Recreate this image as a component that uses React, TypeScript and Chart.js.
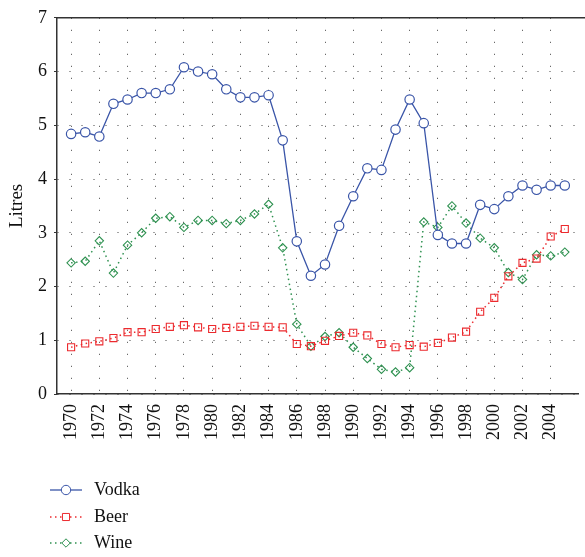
import React, { useEffect, useRef } from "react";
import { Chart, registerables } from "chart.js";

Chart.register(...registerables);

const years: number[] = [
  1970, 1971, 1972, 1973, 1974, 1975, 1976, 1977, 1978, 1979, 1980, 1981,
  1982, 1983, 1984, 1985, 1986, 1987, 1988, 1989, 1990, 1991, 1992, 1993,
  1994, 1995, 1996, 1997, 1998, 1999, 2000, 2001, 2002, 2003, 2004, 2005,
];

const vodka: number[] = [
  4.84, 4.87, 4.79, 5.4, 5.48, 5.6, 5.6, 5.67, 6.08, 6.0, 5.95, 5.67,
  5.52, 5.52, 5.56, 4.72, 2.84, 2.2, 2.41, 3.13, 3.68, 4.2, 4.17, 4.92,
  5.48, 5.04, 2.96, 2.8, 2.8, 3.52, 3.44, 3.68, 3.88, 3.8, 3.88, 3.88,
];

const beer: number[] = [
  0.87, 0.94, 0.98, 1.04, 1.15, 1.15, 1.21, 1.25, 1.28, 1.24, 1.21, 1.23,
  1.25, 1.27, 1.25, 1.24, 0.93, 0.89, 0.99, 1.08, 1.14, 1.09, 0.93, 0.87,
  0.91, 0.88, 0.95, 1.05, 1.16, 1.53, 1.79, 2.19, 2.44, 2.52, 2.93, 3.07,
];

const wine: number[] = [
  2.44, 2.47, 2.85, 2.25, 2.77, 3.0, 3.27, 3.3, 3.1, 3.23, 3.23, 3.17,
  3.23, 3.35, 3.53, 2.72, 1.3, 0.89, 1.07, 1.14, 0.87, 0.66, 0.46, 0.41,
  0.49, 3.2, 3.1, 3.5, 3.18, 2.9, 2.72, 2.26, 2.13, 2.59, 2.57, 2.64,
];

const xTickYears: number[] = [
  1970, 1972, 1974, 1976, 1978, 1980, 1982, 1984, 1986, 1988, 1990, 1992,
  1994, 1996, 1998, 2000, 2002, 2004,
];

const seriesNames: string[] = ["Vodka", "Beer", "Wine"];
const yTitle = "Litres";

const FONT = "'Liberation Serif', 'Times New Roman', serif";
const BLUE = "#3a55a8";
const RED = "#ec2a2e";
const GREEN = "#2e9150";

function drawMarker(ctx: CanvasRenderingContext2D, style: string, x: number, y: number, r: number) {
  ctx.beginPath();
  if (style === "circle") {
    ctx.arc(x, y, r, 0, Math.PI * 2);
  } else if (style === "rect") {
    const s = r * Math.SQRT1_2;
    ctx.rect(x - s, y - s, 2 * s, 2 * s);
  } else {
    ctx.moveTo(x, y - r);
    ctx.lineTo(x + r, y);
    ctx.lineTo(x, y + r);
    ctx.lineTo(x - r, y);
    ctx.closePath();
  }
}

const frameAndLegend = {
  id: "frameAndLegend",
  afterDraw(chart: any) {
    const ctx: CanvasRenderingContext2D = chart.ctx;
    const area = chart.chartArea;
    ctx.save();
    ctx.strokeStyle = "#333";
    ctx.lineWidth = 1.5;
    ctx.setLineDash([]);
    ctx.beginPath();
    ctx.moveTo(area.left, area.top);
    ctx.lineTo(chart.width, area.top);
    ctx.stroke();

    const rows = [490, 517, 543];
    chart.data.datasets.forEach((ds: any, i: number) => {
      const y = rows[i];
      ctx.strokeStyle = ds.borderColor;
      ctx.lineWidth = ds.borderWidth;
      ctx.setLineDash(ds.borderDash || []);
      ctx.beginPath();
      ctx.moveTo(50, y);
      ctx.lineTo(82, y);
      ctx.stroke();
      ctx.setLineDash([]);
      ctx.fillStyle = "#fff";
      ctx.lineWidth = 1;
      drawMarker(ctx, ds.pointStyle, 66, y, ds.pointRadius);
      ctx.fill();
      ctx.stroke();
      ctx.fillStyle = "#111";
      ctx.font = `18px ${FONT}`;
      ctx.textAlign = "left";
      ctx.textBaseline = "middle";
      ctx.fillText(ds.label, 94, y);
    });
    ctx.restore();
  },
};

export default function App() {
  const canvasRef = useRef<HTMLCanvasElement | null>(null);

  useEffect(() => {
    if (!canvasRef.current) return;
    const toPts = (arr: number[]) => years.map((x, i) => ({ x, y: arr[i] }));
    const chart = new Chart(canvasRef.current, {
      type: "line",
      data: {
        datasets: [
          {
            label: seriesNames[0],
            data: toPts(vodka),
            borderColor: BLUE,
            backgroundColor: "#fff",
            borderWidth: 1.3,
            pointStyle: "circle",
            pointRadius: 4.7,
            pointBorderWidth: 1.2,
            pointBackgroundColor: "#fff",
            pointBorderColor: BLUE,
            tension: 0,
          },
          {
            label: seriesNames[1],
            data: toPts(beer),
            borderColor: RED,
            backgroundColor: "#fff",
            borderWidth: 1.5,
            borderDash: [1.5, 3.5],
            pointStyle: "rect",
            pointRadius: 5,
            pointBorderWidth: 1.1,
            pointBackgroundColor: "rgba(255,255,255,0)",
            pointBorderColor: RED,
            tension: 0,
          },
          {
            label: seriesNames[2],
            data: toPts(wine),
            borderColor: GREEN,
            backgroundColor: "#fff",
            borderWidth: 1.5,
            borderDash: [1.5, 3.5],
            pointStyle: "rectRot",
            pointRadius: 4.2,
            pointBorderWidth: 1.1,
            pointBackgroundColor: "rgba(255,255,255,0)",
            pointBorderColor: GREEN,
            tension: 0,
          },
        ],
      },
      options: {
        responsive: false,
        animation: false,
        layout: { padding: { top: 14, right: 0, left: 0, bottom: 0 } },
        plugins: {
          legend: { display: false },
          tooltip: { enabled: false },
        },
        scales: {
          x: {
            type: "linear",
            min: 1969,
            max: 2006,
            afterBuildTicks: (scale: any) => {
              scale.ticks = xTickYears.map((v) => ({ value: v }));
            },
            afterFit: (scale: any) => {
              scale.height = 163;
            },
            ticks: {
              autoSkip: false,
              minRotation: 90,
              maxRotation: 90,
              padding: 10,
              color: "#111",
              font: { family: FONT, size: 18 },
              callback: (v: any) => String(v),
            },
            grid: {
              color: "#444",
              lineWidth: 1,
              drawTicks: false,
            },
            border: { display: true, color: "#333", width: 1.5, dash: [1, 11] },
          },
          y: {
            min: 0,
            max: 7,
            afterFit: (scale: any) => {
              scale.width = 57;
            },
            ticks: {
              stepSize: 1,
              padding: 7,
              color: "#111",
              font: { family: FONT, size: 18 },
            },
            title: {
              display: true,
              text: yTitle,
              color: "#111",
              font: { family: FONT, size: 19 },
              padding: { top: 6, bottom: 0 },
            },
            grid: {
              color: "#444",
              lineWidth: 1,
              drawTicks: true,
              tickLength: 3,
              tickColor: "#333",
              tickBorderDash: [],
            },
            border: { display: true, color: "#333", width: 1.5, dash: [1, 11] },
          },
        },
      },
      plugins: [frameAndLegend],
    } as any);
    return () => chart.destroy();
  }, []);

  return (
    <div style={{ position: "absolute", left: 0, top: 0, width: 585, height: 557, background: "#fff" }}>
      <canvas ref={canvasRef} width={585} height={557} style={{ display: "block" }} />
    </div>
  );
}
